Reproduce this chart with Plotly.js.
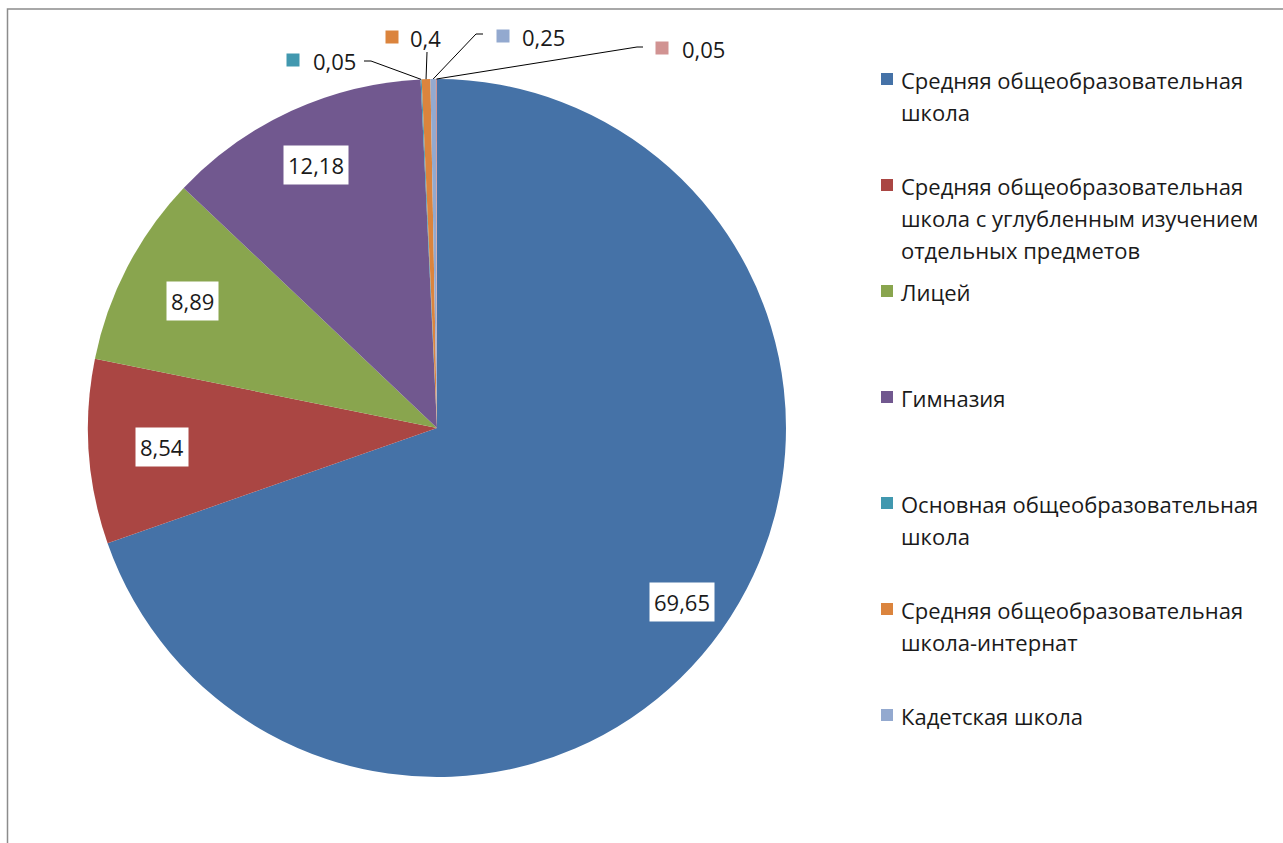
<!DOCTYPE html>
<html>
<head>
<meta charset="utf-8">
<script src="https://cdn.plot.ly/plotly-3.0.1.min.js"></script>
<style>html,body{margin:0;padding:0;background:#fff;}#chart{width:1283px;height:843px;}</style>
</head>
<body>
<div id="chart"></div>
<script>
// ---- data ----
const categories = [
  'Средняя общеобразовательная школа',
  'Средняя общеобразовательная школа с углубленным изучением отдельных предметов',
  'Лицей',
  'Гимназия',
  'Основная общеобразовательная школа',
  'Средняя общеобразовательная школа-интернат',
  'Кадетская школа',
  'Прочие'
];
const values = [69.65, 8.54, 8.89, 12.18, 0.05, 0.4, 0.25, 0.05];
const legendLines = [
  ['Средняя общеобразовательная', 'школа'],
  ['Средняя общеобразовательная', 'школа с углубленным изучением', 'отдельных предметов'],
  ['Лицей'],
  ['Гимназия'],
  ['Основная общеобразовательная', 'школа'],
  ['Средняя общеобразовательная', 'школа-интернат'],
  ['Кадетская школа']
];
const colors = ['#4572A7', '#AA4643', '#89A54E', '#71588F', '#4198AF', '#DB843D', '#93A9CF', '#D19392'];

// ---- layout config ----
const W = 1283, H = 843;
const cx = 437, cy = 428, R = 349;
const FONT = '"Open Sans", sans-serif';
const FS = 22;
const TXT = '#1a1a1a';
const X = px => px / W;
const Y = py => 1 - py / H;
const labelRadius = [0.86, 0.79, 0.79, 0.83];

const total = values.reduce((a, b) => a + b, 0);
function midAngle(i) {
  let s = 0;
  for (let k = 0; k < i; k++) s += values[k];
  return (s + values[i] / 2) / total * 2 * Math.PI;
}
function pt(i, frac) {
  const a = midAngle(i);
  return [cx + R * frac * Math.sin(a), cy - R * frac * Math.cos(a)];
}
const fmt = v => String(v).replace('.', ',');

const annotations = [];
const shapes = [];

// frame
shapes.push({type: 'rect', xref: 'paper', yref: 'paper', x0: X(7.5), y0: Y(9), x1: X(W + 20), y1: Y(H + 20),
  line: {color: '#8c8c8c', width: 1.5}, fillcolor: 'rgba(0,0,0,0)', layer: 'below'});

// inside labels for large slices
[0, 1, 2, 3].forEach(i => {
  const p = pt(i, labelRadius[i]);
  annotations.push({xref: 'paper', yref: 'paper', x: X(p[0]), y: Y(p[1]), xanchor: 'center', yanchor: 'middle',
    text: fmt(values[i]), showarrow: false, bgcolor: '#ffffff', borderpad: 4,
    font: {family: FONT, size: FS, color: TXT}});
});

// outside labels for small slices
const outside = {
  4: {sq: [293, 60], tx: 311, ty: 61, line: [[364, 61], [371, 61]]},
  5: {sq: [392, 37], tx: 408, ty: 38, line: [[427, 52]]},
  6: {sq: [503, 36], tx: 520, ty: 37, line: [[483, 34], [476, 34]]},
  7: {sq: [662, 48], tx: 680, ty: 49, line: [[643, 47], [637, 47]]}
};
Object.keys(outside).forEach(k => {
  const i = +k, o = outside[k];
  const s = 6.5;
  shapes.push({type: 'rect', xref: 'paper', yref: 'paper',
    x0: X(o.sq[0] - s), x1: X(o.sq[0] + s), y0: Y(o.sq[1] - s), y1: Y(o.sq[1] + s),
    fillcolor: colors[i], line: {width: 0}});
  annotations.push({xref: 'paper', yref: 'paper', x: X(o.tx), y: Y(o.ty), xanchor: 'left', yanchor: 'middle',
    text: fmt(values[i]), showarrow: false, font: {family: FONT, size: FS, color: TXT}});
  const edge = pt(i, 1.0);
  const pts = o.line.concat([edge]);
  const path = 'M' + pts.map(p => X(p[0]) + ',' + Y(p[1])).join(' L');
  shapes.push({type: 'path', xref: 'paper', yref: 'paper', path: path, line: {color: '#000000', width: 1}});
});

// legend (drawn manually to match spacing)
const legX = 887, legTextX = 899, legY0 = 79, legStep = 106, lineH = 32;
legendLines.forEach((lines, i) => {
  const y = legY0 + i * legStep;
  shapes.push({type: 'rect', xref: 'paper', yref: 'paper',
    x0: X(legX - 6), x1: X(legX + 6), y0: Y(y - 6), y1: Y(y + 6),
    fillcolor: colors[i], line: {width: 0}});
  lines.forEach((t, j) => {
    annotations.push({xref: 'paper', yref: 'paper', x: X(legTextX), y: Y(y + j * lineH + 1),
      xanchor: 'left', yanchor: 'middle', text: t, showarrow: false,
      font: {family: FONT, size: FS, color: TXT}});
  });
});

const trace = {
  type: 'pie',
  labels: categories,
  values: values,
  sort: false,
  direction: 'clockwise',
  rotation: 0,
  textinfo: 'none',
  hoverinfo: 'label+value',
  marker: {colors: colors, line: {width: 0}},
  domain: {x: [X(cx - R), X(cx + R)], y: [Y(cy + R), Y(cy - R)]},
  showlegend: false
};

const layout = {
  width: W, height: H,
  margin: {l: 0, r: 0, t: 0, b: 0},
  paper_bgcolor: '#ffffff',
  showlegend: false,
  annotations: annotations,
  shapes: shapes,
  font: {family: FONT}
};

Plotly.newPlot('chart', [trace], layout, {displayModeBar: false, staticPlot: true});
</script>
</body>
</html>
